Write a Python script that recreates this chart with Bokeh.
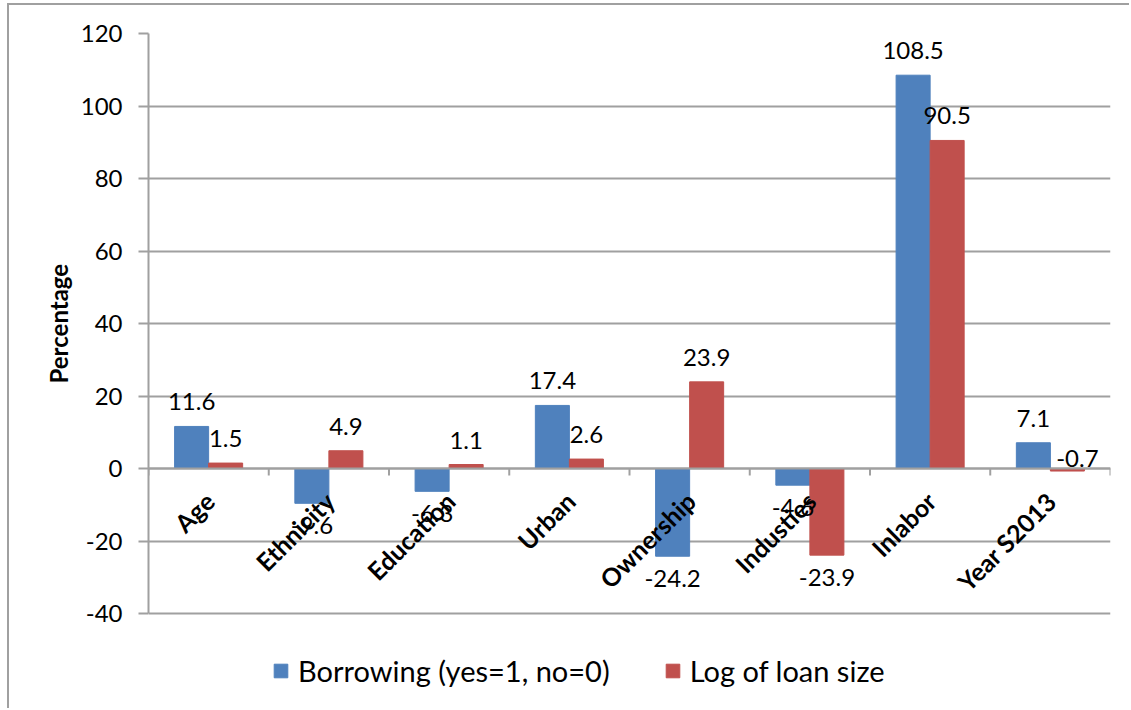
import math
from bokeh.plotting import figure
from bokeh.models import (ColumnDataSource, FactorRange, FixedTicker, Legend, LegendItem, Span,
                          Title, PrintfTickFormatter)
from bokeh.transform import dodge
from bokeh.core.properties import value
from bokeh.embed import file_html
from bokeh.resources import INLINE

# ---- data ----
categories = ["Age", "Ethnicity", "Education", "Urban", "Ownership", "Industies", "Inlabor", "Year S2013"]
borrowing = [11.6, -9.6, -6.3, 17.4, -24.2, -4.6, 108.5, 7.1]
loan_size = [1.5, 4.9, 1.1, 2.6, 23.9, -23.9, 90.5, -0.7]
series_names = ["Borrowing (yes=1, no=0)", "Log of loan size"]
y_ticks = [-40, -20, 0, 20, 40, 60, 80, 100, 120]

# ---- style ----
BLUE = "#4F81BD"
RED = "#C0504D"
GRID = "#A0A0A0"
FONT = "Lato"
BAR_W = 0.283
OFF = BAR_W / 2
FIG_H = 705
TOP = 28
PX_PER_UNIT = 580 / 160                          # vertical pixels per unit
EXTRA_BELOW = (FIG_H - TOP - 580) / PX_PER_UNIT  # room below the axis for the legend

p = figure(x_range=FactorRange(factors=categories, range_padding=0),
           y_range=(y_ticks[0] - EXTRA_BELOW, y_ticks[-1]),
           width=1122, height=FIG_H, output_backend="svg", toolbar_location=None,
           min_border_left=139, min_border_right=21, min_border_top=TOP, min_border_bottom=0)
p.styles = {"margin-left": "7px", "margin-top": "3px",
            "border-left": "2px solid #A0A0A0", "border-top": "2px solid #A0A0A0"}
p.border_fill_color = "white"
p.outline_line_color = None

src = ColumnDataSource(dict(cat=categories, b=borrowing, l=loan_size))
rb = p.vbar(x=dodge("cat", -OFF, range=p.x_range), top="b", bottom=0, width=BAR_W, source=src,
            fill_color=BLUE, line_color=BLUE)
rl = p.vbar(x=dodge("cat", OFF, range=p.x_range), top="l", bottom=0, width=BAR_W, source=src,
            fill_color=RED, line_color=RED)

# y axis & grid
p.yaxis.ticker = FixedTicker(ticks=y_ticks)
p.yaxis.formatter = PrintfTickFormatter(format="%d")
p.yaxis.bounds = (y_ticks[0], y_ticks[-1])
p.yaxis.axis_line_color = GRID
p.yaxis.axis_line_width = 2
p.yaxis.major_tick_line_color = GRID
p.yaxis.major_tick_line_width = 2
p.yaxis.major_tick_out = 10
p.yaxis.major_tick_in = 0
p.yaxis.minor_tick_line_color = None
p.yaxis.major_label_text_font = FONT
p.yaxis.major_label_text_font_size = "24px"
p.yaxis.major_label_text_color = "black"
p.yaxis.major_label_standoff = 16
p.ygrid.ticker = FixedTicker(ticks=y_ticks)
p.ygrid.grid_line_color = GRID
p.ygrid.grid_line_width = 2
p.xgrid.grid_line_color = None
p.xaxis.visible = False

# y-axis title, centred on the -40..120 span rather than the whole frame
ytitle = Title(text="Percentage", align="left", offset=FIG_H - TOP - 580 + 97 + 133,
               text_font=FONT, text_font_style="bold", text_font_size="24px",
               text_color="black", standoff=10)
p.add_layout(ytitle, "left")

# zero axis line and tick marks between categories
p.add_layout(Span(location=0, dimension="width", line_color=GRID, line_width=2))
n = len(categories)
tick_src = ColumnDataSource(dict(x=list(range(n + 1))))
p.segment(x0="x", x1="x", y0=0, y1=-7 / PX_PER_UNIT, source=tick_src, line_color=GRID, line_width=2)

# category labels on the zero line, rotated
p.text(x="cat", y=0, text="cat", source=ColumnDataSource(dict(cat=categories)),
       angle=math.pi / 4, text_align="right", text_baseline="middle",
       x_offset=1, y_offset=28, text_font=value(FONT), text_font_style="bold",
       text_font_size="25px", text_color="black")

# data labels
LABEL_SIZE = "24px"
for vals, off in ((borrowing, -OFF), (loan_size, OFF)):
    pos = dict(cat=[], v=[], t=[])
    neg = dict(cat=[], v=[], t=[])
    tiny = dict(cat=[], v=[], t=[])
    for c, v in zip(categories, vals):
        d = pos if v >= 0 else (tiny if v > -1 else neg)
        d["cat"].append(c); d["v"].append(v if d is not tiny else 0); d["t"].append(f"{v:.1f}")
    p.text(x=dodge("cat", off, range=p.x_range), y="v", text="t", source=ColumnDataSource(pos),
           text_align="center", text_baseline="bottom", y_offset=-16,
           text_font=value(FONT), text_font_size=LABEL_SIZE, text_color="black")
    p.text(x=dodge("cat", off, range=p.x_range), y="v", text="t", source=ColumnDataSource(neg),
           text_align="center", text_baseline="top", y_offset=14,
           text_font=value(FONT), text_font_size=LABEL_SIZE, text_color="black")
    # Excel nudged the tiny negative label above the axis
    p.text(x=dodge("cat", off, range=p.x_range), y="v", text="t", source=ColumnDataSource(tiny),
           text_align="center", text_baseline="bottom", y_offset=-2, x_offset=10,
           text_font=value(FONT), text_font_size=LABEL_SIZE, text_color="black")

legend = Legend(items=[LegendItem(label=series_names[0], renderers=[rb]),
                       LegendItem(label=series_names[1], renderers=[rl])],
                orientation="horizontal", location=(124, 22),
                glyph_width=17, glyph_height=17, label_standoff=9, spacing=54,
                padding=0, margin=0, border_line_color=None, background_fill_alpha=0,
                label_text_font=FONT, label_text_font_size="29px", label_text_color="black")
p.add_layout(legend)

open("out.html", "w").write(file_html(p, INLINE))
